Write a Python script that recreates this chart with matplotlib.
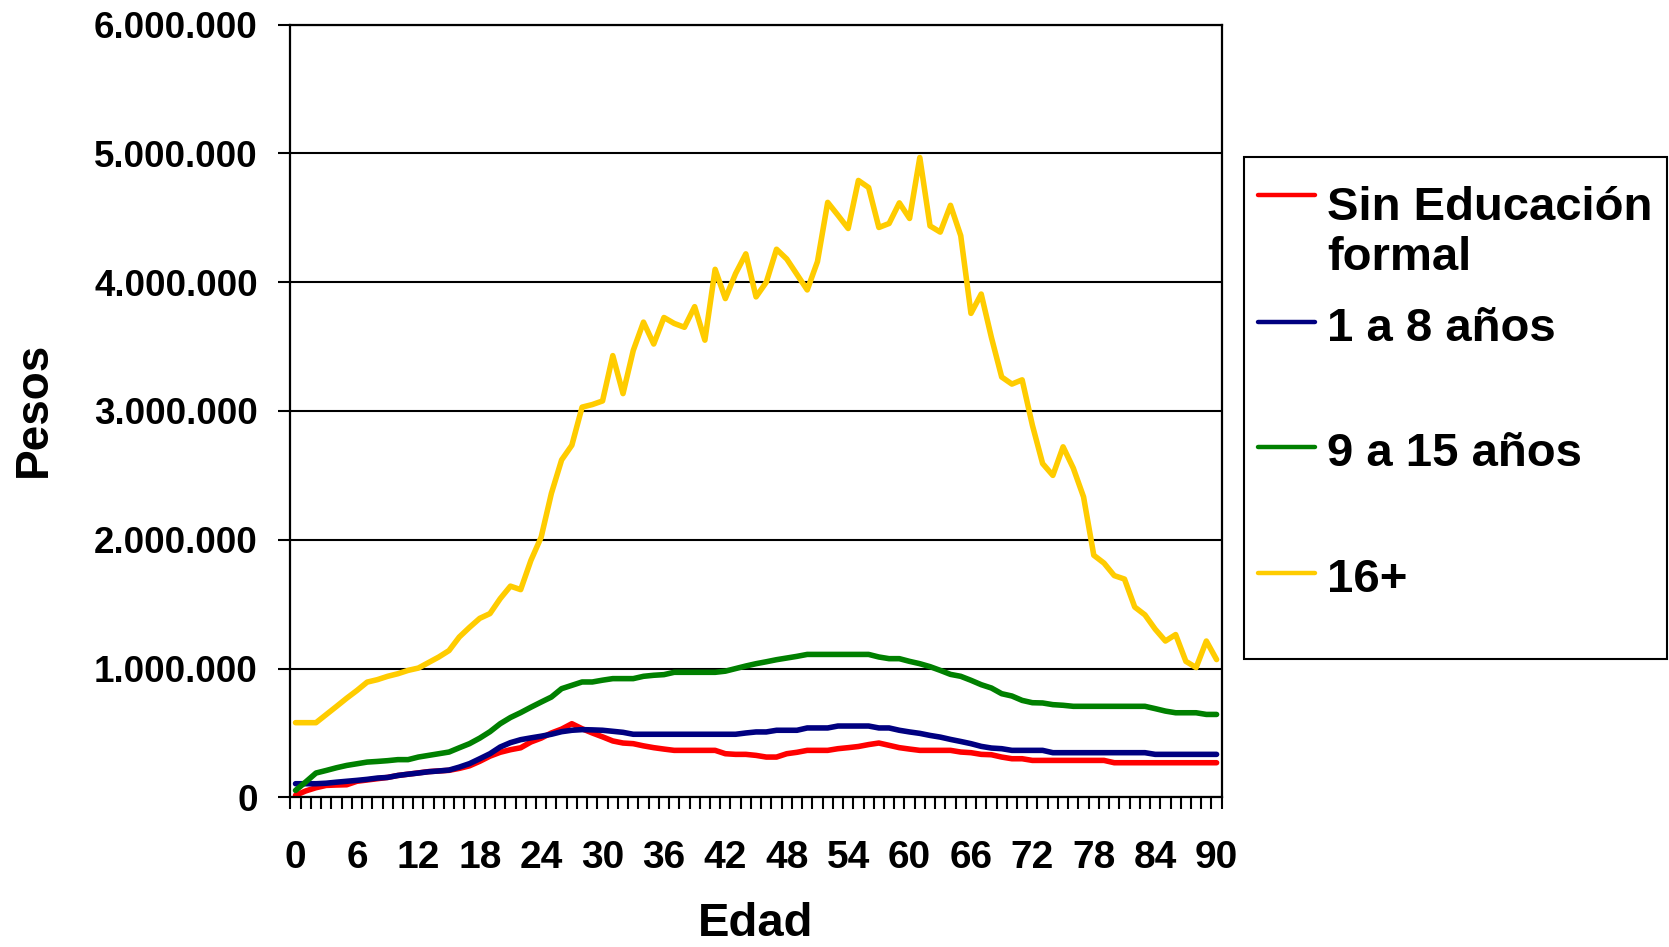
import numpy as np
import matplotlib.pyplot as plt
from matplotlib.ticker import FuncFormatter, MultipleLocator
from matplotlib.lines import Line2D
from matplotlib.patches import Rectangle

plt.rcParams['font.family'] = ['Liberation Sans', 'DejaVu Sans']
plt.rcParams['font.weight'] = 'bold'

edad = np.arange(0, 91)

# ingresos en millones de pesos
sin_educacion = [0.016, 0.05, 0.075, 0.093, 0.096, 0.098, 0.125, 0.135, 0.145, 0.155,
                 0.17, 0.18, 0.19, 0.2, 0.205, 0.21, 0.225, 0.245, 0.28, 0.32,
                 0.35, 0.37, 0.385, 0.43, 0.46, 0.5, 0.53, 0.572, 0.533, 0.5,
                 0.47, 0.438, 0.422, 0.417, 0.4, 0.386, 0.375, 0.365, 0.365, 0.365,
                 0.365, 0.365, 0.339, 0.334, 0.334, 0.326, 0.313, 0.313, 0.339, 0.35,
                 0.365, 0.365, 0.365, 0.378, 0.386, 0.395, 0.41, 0.422, 0.404, 0.386,
                 0.375, 0.365, 0.365, 0.365, 0.365, 0.352, 0.347, 0.334, 0.331, 0.313,
                 0.3, 0.3, 0.287, 0.287, 0.287, 0.287, 0.287, 0.287, 0.287, 0.287,
                 0.269, 0.269, 0.269, 0.269, 0.269, 0.269, 0.269, 0.269, 0.269, 0.269,
                 0.269]
anios_1_8 = [0.106, 0.106, 0.106, 0.11, 0.118, 0.125, 0.132, 0.14, 0.15, 0.155,
             0.17, 0.18, 0.189, 0.199, 0.205, 0.212, 0.235, 0.262, 0.3, 0.339,
             0.391, 0.425, 0.448, 0.462, 0.475, 0.49, 0.51, 0.521, 0.526, 0.524,
             0.521, 0.513, 0.505, 0.49, 0.49, 0.49, 0.49, 0.49, 0.49, 0.49,
             0.49, 0.49, 0.49, 0.49, 0.5, 0.508, 0.508, 0.521, 0.521, 0.521,
             0.539, 0.539, 0.539, 0.554, 0.554, 0.554, 0.554, 0.539, 0.539, 0.521,
             0.508, 0.497, 0.481, 0.468, 0.45, 0.434, 0.417, 0.396, 0.383, 0.378,
             0.365, 0.365, 0.365, 0.365, 0.347, 0.347, 0.347, 0.347, 0.347, 0.347,
             0.347, 0.347, 0.347, 0.347, 0.334, 0.334, 0.334, 0.334, 0.334, 0.334,
             0.334]
anios_9_15 = [0.054, 0.12, 0.189, 0.209, 0.23, 0.248, 0.261, 0.274, 0.279, 0.285,
              0.293, 0.293, 0.313, 0.326, 0.339, 0.352, 0.385, 0.417, 0.46, 0.51,
              0.572, 0.62, 0.658, 0.7, 0.74, 0.779, 0.844, 0.87, 0.896, 0.896,
              0.91, 0.922, 0.922, 0.922, 0.94, 0.948, 0.953, 0.971, 0.971, 0.971,
              0.971, 0.971, 0.98, 1.0, 1.02, 1.038, 1.053, 1.069, 1.082, 1.095,
              1.11, 1.11, 1.11, 1.11, 1.11, 1.11, 1.11, 1.09, 1.077, 1.077,
              1.056, 1.038, 1.015, 0.986, 0.955, 0.94, 0.909, 0.875, 0.849, 0.805,
              0.787, 0.753, 0.735, 0.733, 0.72, 0.715, 0.707, 0.707, 0.707, 0.707,
              0.707, 0.707, 0.707, 0.707, 0.689, 0.67, 0.657, 0.657, 0.657, 0.644,
              0.644]
anios_16 = [0.58, 0.58, 0.58, 0.643, 0.706, 0.77, 0.83, 0.895, 0.914, 0.94,
            0.96, 0.986, 1.004, 1.047, 1.09, 1.14, 1.245, 1.32, 1.39, 1.427,
            1.543, 1.64, 1.613, 1.84, 2.02, 2.36, 2.62, 2.734, 3.03, 3.05,
            3.078, 3.43, 3.135, 3.47, 3.69, 3.52, 3.726, 3.68, 3.65, 3.81,
            3.55, 4.1, 3.873, 4.067, 4.22, 3.886, 4.0, 4.256, 4.18, 4.06,
            3.94, 4.16, 4.62, 4.52, 4.417, 4.79, 4.735, 4.425, 4.456, 4.616,
            4.495, 4.968, 4.437, 4.389, 4.597, 4.361, 3.758, 3.908, 3.57, 3.264,
            3.209, 3.242, 2.89, 2.592, 2.5, 2.722, 2.556, 2.333, 1.88, 1.819,
            1.722, 1.695, 1.478, 1.417, 1.306, 1.214, 1.264, 1.056, 1.008, 1.214,
            1.07]

nombres = ['Sin Educación\nformal', '1 a 8 años', '9 a 15 años', '16+']
colores = ['#FF0000', '#000080', '#008000', '#FFCC00']
valores = [sin_educacion, anios_1_8, anios_9_15, anios_16]

W, H = 1669, 947
fig = plt.figure(figsize=(W / 100, H / 100), dpi=100)
ax = fig.add_axes([0.174, 0.158, 0.558, 0.816])

for nombre, v, color in zip(nombres, valores, colores):
    ax.plot(edad, np.array(v) * 1e6, color=color, lw=4.0, label=nombre,
            solid_joinstyle='round', solid_capstyle='round')

ax.set_xlim(-0.5, 90.5)
ax.set_ylim(0, 6e6)
ax.yaxis.set_major_locator(MultipleLocator(1e6))
ax.yaxis.set_major_formatter(FuncFormatter(lambda v, p: f'{v:,.0f}'.replace(',', '.')))
ax.set_xticks(np.arange(0, 91, 6))
ax.set_xticks(np.arange(-0.5, 91, 1), minor=True)
ax.tick_params(axis='x', which='major', length=0, pad=31, labelsize=28)
ax.tick_params(axis='x', which='minor', length=8.5, width=1.5, direction='out')
ax.tick_params(axis='y', which='major', length=8.5, width=1.5, pad=15, labelsize=26.5)
ax.grid(axis='y', color='black', lw=1.5)
ax.set_axisbelow(True)
for s in ax.spines.values():
    s.set_linewidth(1.6)
    s.set_color('black')

fig.text(0.0204, 0.568, 'Pesos', rotation=90, ha='center', va='center', fontsize=33)
fig.text(0.453, 0.0243, 'Edad', ha='center', va='center', fontsize=34)

# leyenda dibujada a mano (en pixeles de la figura) para copiar el estilo de Excel
fig.add_artist(Rectangle((1244 / W, 1 - 659.3 / H), (1666.5 - 1244) / W, (659.3 - 157.3) / H,
                         transform=fig.transFigure, facecolor='white',
                         edgecolor='black', lw=1.5))
handle_y = [195, 321.7, 446.7, 572.7]
paso_linea = 56
for nombre, color, hy in zip(nombres, colores, handle_y):
    fig.add_artist(Line2D([1258 / W, 1315 / W], [1 - hy / H, 1 - hy / H],
                          transform=fig.transFigure, color=color, lw=3.2,
                          solid_capstyle='round'))
    base = hy + 19 + paso_linea * nombre.count('\n')   # baseline de la ultima linea
    fig.text(1327 / W, 1 - base / H, nombre, fontsize=34, ha='left',
             va='baseline', linespacing=1.17, zorder=5)

fig.savefig('out.png', dpi=100)
